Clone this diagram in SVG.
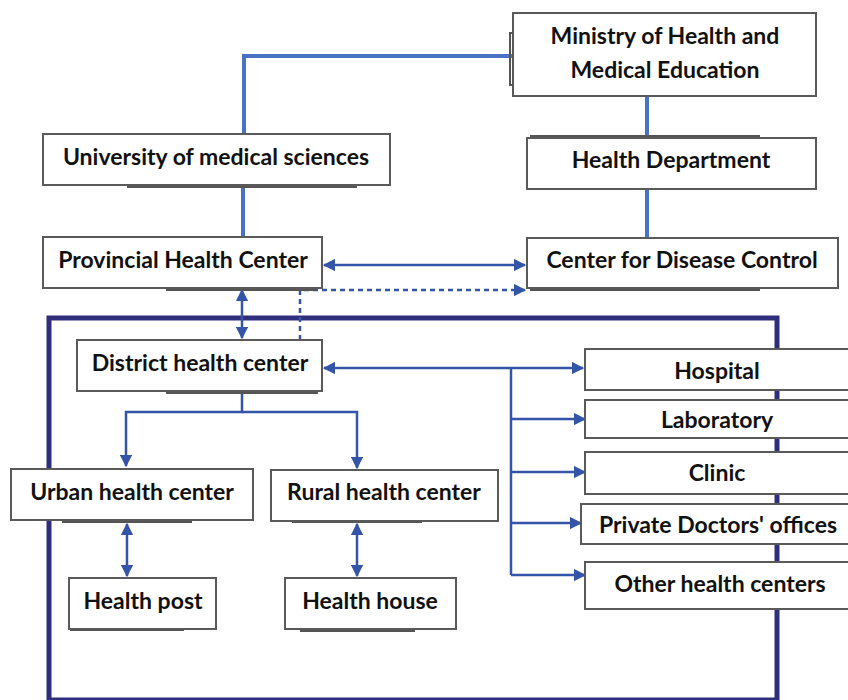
<svg xmlns="http://www.w3.org/2000/svg" width="848" height="700" viewBox="0 0 848 700">
<defs>
<style>
.box{fill:#fff;stroke:#5a5a5a;stroke-width:2}
.sh{stroke:#555;stroke-width:2;fill:none}
.t{font-family:Lato,"Open Sans","Liberation Sans",sans-serif;font-weight:bold;font-size:23px;fill:#111;text-anchor:middle}
.top{stroke:#4a72c4;stroke-width:4;fill:none}
.c{stroke:#3454a8;stroke-width:2.5;fill:none}
.d{stroke:#3454a8;stroke-width:2.5;fill:none;stroke-dasharray:5 4}
</style>
<marker id="ah" viewBox="0 0 10 10" refX="9" refY="5" markerWidth="5" markerHeight="5" orient="auto-start-reverse" markerUnits="strokeWidth">
<path d="M0,0 L10,5 L0,10 z" fill="#3454a8"/>
</marker>
</defs>
<rect x="0" y="0" width="848" height="700" fill="#fff"/>
<rect x="49" y="318" width="728" height="382" fill="none" stroke="#2e2e7c" stroke-width="5"/>
<g id="connectors">
<polyline class="top" points="513,56 244,56 244,134"/>
<line class="top" x1="243" y1="185" x2="243" y2="237"/>
<line class="top" x1="647" y1="96" x2="647" y2="137"/>
<line class="top" x1="647" y1="189" x2="647" y2="237"/>
<line class="c" x1="324" y1="265" x2="525" y2="265" marker-start="url(#ah)" marker-end="url(#ah)"/>
<polyline class="d" points="300,340 300,290 525,290" marker-end="url(#ah)"/>
<line class="c" x1="242" y1="290" x2="242" y2="338" marker-start="url(#ah)" marker-end="url(#ah)"/>
<line class="c" x1="324" y1="368" x2="583" y2="368" marker-start="url(#ah)" marker-end="url(#ah)"/>
<polyline class="c" points="511,368 511,575"/>
<line class="c" x1="511" y1="419" x2="585" y2="419" marker-end="url(#ah)"/>
<line class="c" x1="511" y1="472" x2="585" y2="472" marker-end="url(#ah)"/>
<line class="c" x1="511" y1="523" x2="581" y2="523" marker-end="url(#ah)"/>
<line class="c" x1="511" y1="575" x2="585" y2="575" marker-end="url(#ah)"/>
<polyline class="c" points="242,391 242,412 126,412 126,466" marker-end="url(#ah)"/>
<polyline class="c" points="242,412 357,412 357,468" marker-end="url(#ah)"/>
<line class="c" x1="127" y1="524" x2="127" y2="576" marker-start="url(#ah)" marker-end="url(#ah)"/>
<line class="c" x1="357" y1="524" x2="357" y2="576" marker-start="url(#ah)" marker-end="url(#ah)"/>
</g>
<g id="ministry">
<path class="sh" d="M513,33 L510,33 L510,85 L513,85"/>
<rect class="box" x="513" y="13" width="303" height="83"/>
<text class="t" x="665" y="44">Ministry of Health and</text>
<text class="t" x="665" y="78">Medical Education</text>
</g>
<g id="university">
<line class="sh" x1="127" y1="187" x2="357" y2="187"/>
<rect class="box" x="43" y="134" width="347" height="51"/>
<text class="t" x="216" y="165">University of medical sciences</text>
</g>
<g id="health-department">
<line class="sh" x1="530" y1="136" x2="760" y2="136"/>
<rect class="box" x="527" y="138" width="289" height="51"/>
<text class="t" x="671" y="168">Health Department</text>
</g>
<g id="provincial">
<line class="sh" x1="166" y1="290" x2="316" y2="290"/>
<rect class="box" x="43" y="237" width="279" height="51"/>
<text class="t" x="183" y="268">Provincial Health Center</text>
</g>
<g id="cdc">
<line class="sh" x1="530" y1="290" x2="760" y2="290"/>
<rect class="box" x="527" y="238" width="311" height="50"/>
<text class="t" x="682" y="268">Center for Disease Control</text>
</g>
<g id="district">
<line class="sh" x1="166" y1="393" x2="318" y2="393"/>
<rect class="box" x="77" y="340" width="245" height="51"/>
<text class="t" x="200" y="371">District health center</text>
</g>
<g id="urban">
<line class="sh" x1="62" y1="522" x2="192" y2="522"/>
<rect class="box" x="11" y="469" width="242" height="51"/>
<text class="t" x="132" y="500">Urban health center</text>
</g>
<g id="rural">
<line class="sh" x1="292" y1="522" x2="422" y2="522"/>
<rect class="box" x="271" y="470" width="227" height="51"/>
<text class="t" x="384" y="500">Rural health center</text>
</g>
<g id="health-post">
<line class="sh" x1="70" y1="630" x2="184" y2="630"/>
<rect class="box" x="69" y="578" width="147" height="51"/>
<text class="t" x="143" y="609">Health post</text>
</g>
<g id="health-house">
<line class="sh" x1="300" y1="631" x2="415" y2="631"/>
<rect class="box" x="285" y="578" width="171" height="51"/>
<text class="t" x="370" y="609">Health house</text>
</g>
<g id="hospital">
<rect class="box" x="585" y="349" width="270" height="41"/>
<text class="t" x="717" y="379">Hospital</text>
</g>
<g id="laboratory">
<rect class="box" x="585" y="400" width="270" height="38"/>
<text class="t" x="717" y="428">Laboratory</text>
</g>
<g id="clinic">
<rect class="box" x="585" y="452" width="270" height="42"/>
<text class="t" x="717" y="481">Clinic</text>
</g>
<g id="private">
<rect class="box" x="581" y="504" width="274" height="40"/>
<text class="t" x="718" y="533">Private Doctors' offices</text>
</g>
<g id="other">
<rect class="box" x="585" y="562" width="270" height="47"/>
<text class="t" x="720" y="592">Other health centers</text>
</g>
</svg>
